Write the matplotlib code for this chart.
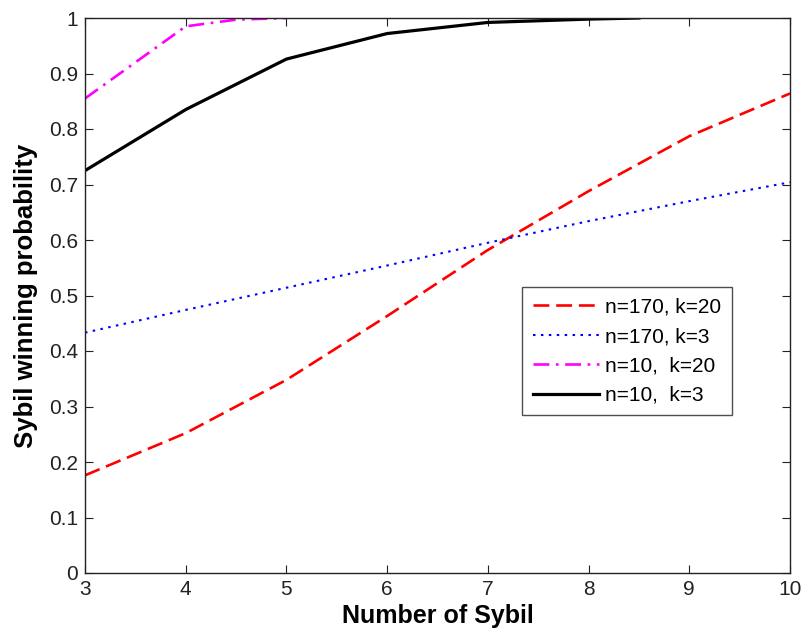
import matplotlib
matplotlib.use("Agg")
import matplotlib.pyplot as plt

plt.rcParams['font.family'] = ['Liberation Sans', 'DejaVu Sans']

x = [3, 4, 5, 6, 7, 8, 9, 10]
red_n170_k20 = [0.176, 0.252, 0.348, 0.463, 0.582, 0.688, 0.787, 0.864]
blue_n170_k3 = [0.433, 0.474, 0.514, 0.554, 0.595, 0.634, 0.670, 0.704]
x_mag = [3, 4, 4.5, 5]
mag_n10_k20 = [0.855, 0.985, 0.997, 1.0]
x_blk = [3, 4, 5, 6, 7, 8, 8.5]
blk_n10_k3 = [0.725, 0.835, 0.926, 0.972, 0.992, 0.998, 1.0]

labels = ["n=170, k=20", "n=170, k=3", "n=10,  k=20", "n=10,  k=3"]
xticks = [3, 4, 5, 6, 7, 8, 9, 10]
yticks = [0, 0.1, 0.2, 0.3, 0.4, 0.5, 0.6, 0.7, 0.8, 0.9, 1]
yticklabels = ["0", "0.1", "0.2", "0.3", "0.4", "0.5", "0.6", "0.7", "0.8", "0.9", "1"]

fig = plt.figure(figsize=(8.01, 6.33), dpi=100)
ax = fig.add_axes([85/801, 60/633, 705/801, 555/633])

ax.plot(x, red_n170_k20, color='#ff0000', lw=1.9, dashes=(6, 2.6), label=labels[0])
ax.plot(x, blue_n170_k3, color='#0000ff', lw=1.5, dashes=(1.2, 2.6), label=labels[1])
ax.plot(x_mag, mag_n10_k20, color='#ff00ff', lw=1.9, dashes=(6, 2.5, 1, 2.5), label=labels[2])
ax.plot(x_blk, blk_n10_k3, color='#000000', lw=2.3, label=labels[3])

ax.set_xlim(3, 10)
ax.set_ylim(0, 1)
ax.set_xticks(xticks)
ax.set_xticklabels([str(v) for v in xticks])
ax.set_yticks(yticks)
ax.set_yticklabels(yticklabels)
ax.tick_params(direction='in', length=6, width=0.8, top=True, right=True,
               labelsize=15, colors='#222222', pad=5)
for s in ax.spines.values():
    s.set_linewidth(1.0)
    s.set_color('#222222')

ax.set_xlabel("Number of Sybil", fontsize=18, fontweight='bold', labelpad=4)
ax.set_ylabel("Sybil winning probability", fontsize=18.5, fontweight='bold', labelpad=8)

leg = ax.legend(loc='upper left', bbox_to_anchor=(0.62, 0.515), fontsize=15,
                frameon=True, fancybox=False, edgecolor='#222222',
                handlelength=3.2, handletextpad=0.3, labelspacing=0.5,
                borderpad=0.5, borderaxespad=0)
leg.get_frame().set_linewidth(1.0)

fig.savefig("out.png", dpi=100)
